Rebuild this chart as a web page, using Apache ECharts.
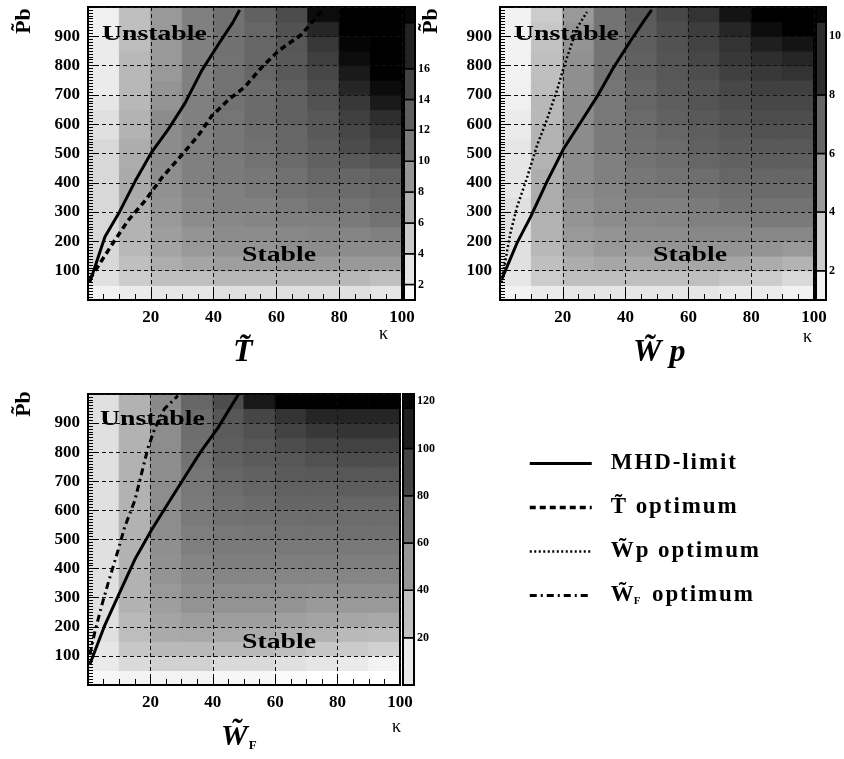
<!DOCTYPE html>
<html>
<head>
<meta charset="utf-8">
<title>Pb vs kappa maps</title>
<script src="https://cdn.jsdelivr.net/npm/echarts@6/dist/echarts.min.js"></script>
<style>
  html, body { margin: 0; background: #fff; }
  #chart { width: 844px; height: 759px; }
</style>
</head>
<body>
<div id="chart"></div>
<script>
// bin edges of the maps
const kappaEdges = [0, 10, 20, 30, 40, 50, 60, 70, 80, 90, 100];
const pbEdges = [0, 50, 100, 150, 200, 250, 300, 350, 400, 450, 500, 550, 600, 650, 700, 750, 800, 850, 900, 950, 1000];

// map values, one row per Pb bin (bottom to top), one column per kappa bin
const zT = [
  [2.0, 2.5, 2.9, 2.9, 3.3, 3.3, 3.3, 3.3, 3.3, 2.9],
  [3.3, 4.8, 5.8, 5.8, 6.3, 6.3, 6.3, 6.3, 6.3, 5.8],
  [3.9, 5.8, 7.1, 7.7, 8.2, 8.2, 8.6, 8.6, 8.6, 8.6],
  [3.9, 6.3, 7.8, 8.6, 9.0, 9.0, 9.4, 9.6, 9.6, 9.6],
  [3.9, 6.7, 8.2, 9.0, 9.6, 9.6, 9.9, 10.1, 10.1, 10.5],
  [3.9, 6.7, 8.6, 9.6, 9.9, 10.1, 10.5, 10.5, 10.9, 11.5],
  [3.9, 7.1, 9.0, 9.9, 10.5, 10.5, 10.9, 11.5, 11.5, 12.0],
  [3.9, 7.3, 9.2, 10.1, 10.5, 10.9, 11.5, 11.8, 12.0, 12.4],
  [3.9, 7.3, 9.4, 10.5, 10.9, 11.1, 11.6, 12.4, 12.4, 12.8],
  [3.9, 7.1, 9.6, 10.5, 10.9, 11.5, 12.0, 12.8, 13.4, 13.9],
  [3.9, 7.1, 9.6, 10.5, 11.1, 11.6, 12.4, 13.0, 14.3, 15.3],
  [3.3, 6.7, 9.6, 10.5, 11.1, 11.8, 12.4, 13.4, 14.7, 15.8],
  [3.3, 6.7, 9.6, 10.5, 11.3, 12.0, 12.8, 13.5, 15.3, 16.6],
  [2.9, 6.3, 9.0, 10.5, 11.5, 12.0, 12.8, 13.9, 15.8, 18.1],
  [2.5, 6.3, 9.0, 10.5, 11.5, 12.0, 13.0, 14.3, 17.2, 19.1],
  [2.5, 6.3, 8.6, 10.5, 11.5, 12.4, 13.4, 14.7, 18.1, 20],
  [2.5, 6.3, 8.6, 10.5, 11.5, 12.4, 13.4, 15.3, 19.1, 20],
  [2.5, 5.9, 8.6, 10.5, 11.6, 12.4, 13.5, 15.8, 19.6, 20],
  [2.1, 5.8, 8.6, 10.5, 11.6, 12.4, 13.9, 17.2, 20, 20],
  [2.1, 5.8, 8.6, 10.5, 11.6, 12.8, 14.3, 19.1, 20, 20]
];
const zWp = [
  [1.5, 1.8, 2.0, 2.0, 2.0, 2.0, 2.0, 1.8, 1.8, 1.5],
  [2.0, 3.0, 3.5, 3.5, 3.5, 3.5, 3.5, 3.2, 3.0, 2.5],
  [2.2, 3.5, 4.2, 4.5, 4.5, 4.5, 4.5, 4.5, 4.3, 4.0],
  [2.2, 3.8, 4.6, 5.0, 5.0, 5.2, 5.2, 5.2, 5.2, 5.0],
  [2.2, 4.0, 5.0, 5.2, 5.5, 5.5, 5.7, 5.7, 5.7, 5.7],
  [2.2, 4.0, 5.2, 5.5, 5.7, 5.8, 6.0, 6.0, 6.2, 6.2],
  [2.2, 4.2, 5.3, 5.7, 6.0, 6.0, 6.2, 6.5, 6.5, 6.5],
  [2.0, 4.2, 5.5, 5.8, 6.2, 6.3, 6.5, 6.7, 6.8, 6.8],
  [2.0, 4.2, 5.5, 6.0, 6.3, 6.5, 6.7, 7.0, 7.0, 7.0],
  [2.0, 4.0, 5.5, 6.0, 6.5, 6.7, 7.0, 7.2, 7.3, 7.3],
  [2.0, 4.0, 5.5, 6.2, 6.6, 6.8, 7.2, 7.4, 7.5, 7.5],
  [1.8, 4.0, 5.5, 6.2, 6.7, 7.0, 7.3, 7.6, 7.8, 7.8],
  [1.8, 3.8, 5.5, 6.3, 6.8, 7.2, 7.5, 7.8, 8.0, 8.0],
  [1.6, 3.8, 5.5, 6.3, 7.0, 7.3, 7.7, 8.0, 8.2, 8.2],
  [1.6, 3.6, 5.4, 6.4, 7.0, 7.5, 7.8, 8.2, 8.5, 8.5],
  [1.5, 3.5, 5.4, 6.5, 7.2, 7.6, 8.0, 8.5, 8.8, 9.0],
  [1.5, 3.5, 5.3, 6.5, 7.2, 7.7, 8.2, 8.8, 9.2, 9.5],
  [1.5, 3.4, 5.2, 6.5, 7.3, 7.8, 8.4, 9.0, 9.8, 10.2],
  [1.5, 3.2, 5.2, 6.5, 7.4, 8.0, 8.6, 9.5, 10.5, 11],
  [1.5, 3.0, 5.0, 6.5, 7.5, 8.2, 9.0, 10.2, 11, 11]
];
const zWF = [
  [4, 6, 6, 6, 4, 4, 2, 0, 0, 0],
  [10, 18, 22, 22, 18, 18, 15, 12, 10, 6],
  [12, 27, 34, 34, 34, 34, 31, 27, 25, 22],
  [15, 32, 41, 42, 42, 41, 39, 37, 34, 33],
  [15, 34, 44, 47, 47, 47, 46, 44, 43, 42],
  [15, 37, 47, 52, 52, 52, 52, 49, 49, 49],
  [15, 37, 49, 54, 55, 55, 55, 54, 54, 54],
  [15, 37, 52, 57, 59, 59, 59, 59, 59, 59],
  [15, 37, 53, 59, 62, 62, 62, 62, 62, 62],
  [15, 37, 54, 62, 64, 64, 65, 65, 65, 65],
  [15, 37, 55, 62, 65, 66, 68, 68, 69, 69],
  [15, 37, 55, 64, 68, 69, 70, 71, 71, 71],
  [15, 37, 55, 64, 69, 71, 74, 74, 74, 74],
  [15, 37, 55, 65, 71, 74, 76, 76, 78, 78],
  [15, 37, 55, 66, 74, 76, 79, 80, 81, 81],
  [15, 37, 55, 68, 76, 79, 81, 84, 86, 86],
  [15, 37, 55, 69, 78, 81, 86, 89, 91, 91],
  [15, 37, 55, 70, 79, 84, 91, 96, 98, 98],
  [15, 37, 55, 71, 81, 89, 98, 105, 105, 105],
  [15, 37, 57, 74, 86, 111, 123, 123, 123, 123]
];

// colour bar band edges and tick labels
const cbEdgesT = [1, 2, 4, 6, 8, 10, 12, 14, 16, 19, 20];
const cbTicksT = [2, 4, 6, 8, 10, 12, 14, 16];
const cbEdgesWp = [1, 2, 4, 6, 8, 10.5, 11];
const cbTicksWp = [2, 4, 6, 8, 10];
const cbEdgesWF = [0, 20, 40, 60, 80, 100, 117, 123];
const cbTicksWF = [20, 40, 60, 80, 100, 120];

// MHD limit (same kappa samples in every panel)
const mhdKappa = [0.6, 5.4, 9.7, 15, 20.3, 25.6, 30.9, 36.2, 41.5, 46, 48.3];
const mhdPbT = [61, 216, 294, 405, 505, 583, 672, 783, 872, 945, 990];
const mhdPbWp = [72, 194, 283, 405, 517, 605, 694, 794, 883, 955, 990];
const mhdPbWF = [71, 206, 307, 431, 532, 623, 713, 803, 881, 960, 1000];

// optimum curves
const optKappaT = [0.6, 3.3, 8.6, 12.8, 18.2, 23.5, 29.8, 35.1, 39.4, 44.7, 50, 55.3, 60.6, 68, 73.3, 75];
const optPbT = [72, 117, 205, 272, 339, 417, 494, 561, 628, 683, 728, 794, 850, 906, 972, 995];
const optKappaWp = [0.5, 1.2, 3.3, 5.4, 8.6, 11.8, 15, 18.2, 20.3, 22.4, 24.5, 27.7];
const optPbWp = [60, 105, 228, 317, 417, 528, 617, 717, 794, 861, 928, 983];
const optKappaWF = [0.6, 2.2, 4.4, 6.5, 9.7, 11.8, 15, 17.1, 19.2, 21.4, 24.5, 28.8];
const optPbWF = [104, 183, 273, 352, 465, 544, 634, 724, 814, 881, 949, 994];

const legendNames = ["MHD-limit", "T\u0303 optimum", "W\u0303p optimum", "W\u0303F optimum"];

const SERIF = "'Liberation Serif', 'DejaVu Serif', serif";

const panels = [
  {
    z: zT, cb: cbEdgesT, ticks: cbTicksT, min: 1, max: 20,
    mhd: mhdPbT, optK: optKappaT, optP: optPbT, optName: legendNames[1],
    optStyle: { type: [6, 4], width: 3.5 },
    main: { left: 88, top: 7, width: 314, height: 293 },
    bar: { left: 404, top: 7, width: 11, height: 293 }
  },
  {
    z: zWp, cb: cbEdgesWp, ticks: cbTicksWp, min: 1, max: 11,
    mhd: mhdPbWp, optK: optKappaWp, optP: optPbWp, optName: legendNames[2],
    optStyle: { type: [2, 2.5], width: 2.5 },
    main: { left: 500, top: 7, width: 314, height: 293 },
    bar: { left: 816, top: 7, width: 11, height: 293 }
  },
  {
    z: zWF, cb: cbEdgesWF, ticks: cbTicksWF, min: 0, max: 123,
    mhd: mhdPbWF, optK: optKappaWF, optP: optPbWF, optName: legendNames[3],
    optStyle: { type: [7, 4, 2, 4], width: 3 },
    main: { left: 88, top: 394, width: 312, height: 291 },
    bar: { left: 403, top: 394, width: 11, height: 291 }
  }
];

function buildCells(z) {
  const cells = [];
  z.forEach((row, r) => {
    row.forEach((v, c) => {
      cells.push([kappaEdges[c], kappaEdges[c + 1], pbEdges[r], pbEdges[r + 1], v]);
    });
  });
  return cells;
}

function buildBands(edges) {
  const bands = [];
  for (let i = 0; i < edges.length - 1; i++) {
    bands.push([0, 1, edges[i], edges[i + 1], (edges[i] + edges[i + 1]) / 2]);
  }
  return bands;
}

function rectItem(api, stroke, lineWidth) {
  const a = api.coord([api.value(0), api.value(3)]);
  const b = api.coord([api.value(1), api.value(2)]);
  const color = api.visual("color");
  return {
    type: "rect",
    shape: { x: a[0], y: a[1], width: b[0] - a[0], height: b[1] - a[1] },
    style: { fill: color, stroke: stroke || color, lineWidth: lineWidth }
  };
}

function zip(xs, ys) {
  return xs.map((x, i) => [x, ys[i]]);
}

function spaced(s) {
  return s.match(/.\u0303?/g).join("\u200A");
}

const grid = [];
const xAxis = [];
const yAxis = [];
const series = [];
const visualMap = [];

panels.forEach((p, i) => {
  grid.push(Object.assign({ show: true, borderColor: "#000", borderWidth: 2, z: 2 }, p.main));
  grid.push(Object.assign({ show: true, borderColor: "#000", borderWidth: 2, z: 2 }, p.bar));

  const labelStyle = { color: "#000", fontFamily: SERIF, fontWeight: "bold", fontSize: 17 };
  const gridLine = { show: true, lineStyle: { color: "#111", width: 1, type: [4, 3] } };

  xAxis.push({
    type: "value", gridIndex: 2 * i, min: 0, max: 100, interval: 20, z: 3,
    axisLine: { show: true, onZero: false, lineStyle: { color: "#000", width: 2 } },
    axisTick: { inside: true, length: 10, lineStyle: { color: "#000" } },
    minorTick: { show: true, splitNumber: 4, length: 6, lineStyle: { color: "#000" } },
    axisLabel: Object.assign({ showMinLabel: false, margin: 9 }, labelStyle),
    splitLine: gridLine
  });
  xAxis.push({ type: "value", gridIndex: 2 * i + 1, min: 0, max: 1, show: false });

  yAxis.push({
    type: "value", gridIndex: 2 * i, min: 0, max: 1000, interval: 100, z: 3,
    axisLine: { show: true, onZero: false, lineStyle: { color: "#000", width: 2 } },
    axisTick: { inside: true, length: 10, lineStyle: { color: "#000" } },
    minorTick: { show: true, splitNumber: 10, length: 5, lineStyle: { color: "#000" } },
    axisLabel: Object.assign({ showMinLabel: false, showMaxLabel: false, margin: 8 }, labelStyle),
    splitLine: gridLine
  });
  yAxis.push({
    type: "value", gridIndex: 2 * i + 1, min: p.min, max: p.max, position: "right",
    axisLine: { show: false }, axisTick: { show: false }, splitLine: { show: false },
    axisLabel: {
      customValues: p.ticks, margin: 3, color: "#000",
      fontFamily: SERIF, fontWeight: "bold", fontSize: 12
    }
  });

  const heatIdx = series.length;
  series.push({
    type: "custom", xAxisIndex: 2 * i, yAxisIndex: 2 * i, silent: true, clip: true, z: 1,
    data: buildCells(p.z),
    renderItem: (params, api) => rectItem(api, null, 1)
  });
  series.push({
    type: "custom", xAxisIndex: 2 * i + 1, yAxisIndex: 2 * i + 1, silent: true, z: 1,
    data: buildBands(p.cb),
    renderItem: (params, api) => rectItem(api, "#000", 1.5)
  });
  visualMap.push({
    type: "continuous", show: false, seriesIndex: [heatIdx, heatIdx + 1], dimension: 4,
    min: p.min, max: p.max, inRange: { color: ["#ffffff", "#000000"] }
  });

  series.push({
    type: "line", name: legendNames[0], xAxisIndex: 2 * i, yAxisIndex: 2 * i, z: 5,
    data: zip(mhdKappa, p.mhd), symbol: "none", silent: true,
    itemStyle: { color: "#000" },
    lineStyle: { color: "#000", width: 3, type: "solid" }
  });
  series.push({
    type: "line", name: p.optName, xAxisIndex: 2 * i, yAxisIndex: 2 * i, z: 5,
    data: zip(p.optK, p.optP), symbol: "none", silent: true,
    itemStyle: { color: "#000" },
    lineStyle: Object.assign({ color: "#000" }, p.optStyle)
  });
});

function text(x, y, str, font, extra) {
  return Object.assign({
    type: "text", x: x, y: y, silent: true, z: 10,
    style: { text: str, font: font, fill: "#000", textAlign: "left", textVerticalAlign: "middle" }
  }, extra || {});
}

function yName(x, y) {
  return {
    type: "text", x: x, y: y, rotation: Math.PI / 2, silent: true, z: 10,
    style: { text: "P\u0303b", font: "bold 22px " + SERIF, fill: "#000", textAlign: "center", textVerticalAlign: "middle" }
  };
}

const bold22 = "bold 22px " + SERIF;
const kappaFont = "18px " + SERIF;
const graphic = [
  text(102, 34, "Unstable", bold22, { scaleX: 1.26 }),
  text(242, 255, "Stable", bold22, { scaleX: 1.26 }),
  text(514, 34, "Unstable", bold22, { scaleX: 1.26 }),
  text(653, 255, "Stable", bold22, { scaleX: 1.26 }),
  text(100, 419, "Unstable", bold22, { scaleX: 1.26 }),
  text(242, 642, "Stable", bold22, { scaleX: 1.26 }),
  yName(24, 21),
  yName(431, 21),
  yName(24, 404),
  text(379, 334, "\u03ba", kappaFont),
  text(803, 337, "\u03ba", kappaFont),
  text(392, 727, "\u03ba", kappaFont),
  text(233, 353, "T\u0303", "italic bold 32px " + SERIF),
  text(633, 353, "W\u0303 p", "italic bold 32px " + SERIF),
  {
    type: "text", x: 221, y: 737, silent: true, z: 10,
    style: {
      text: "{w|W\u0303}{f|F}", fill: "#000", textAlign: "left", textVerticalAlign: "middle",
      rich: {
        w: { font: "italic bold 30px " + SERIF, fill: "#000" },
        f: { font: "bold 13px " + SERIF, fill: "#000", verticalAlign: "bottom", padding: [0, 0, 0, 1] }
      }
    }
  }
];

const option = {
  backgroundColor: "#fff",
  animation: false,
  grid: grid,
  xAxis: xAxis,
  yAxis: yAxis,
  visualMap: visualMap,
  series: series,
  graphic: graphic,
  legend: {
    orient: "vertical", left: 528, top: 452, padding: 0,
    itemWidth: 62, itemHeight: 14, itemGap: 21,
    selectedMode: false,
    data: legendNames,
    itemStyle: { opacity: 0 },
    lineStyle: { width: "inherit" },
    textStyle: {
      color: "#000", fontFamily: SERIF, fontWeight: "bold", fontSize: 23, padding: [0, 0, 0, 14],
      rich: {
        t: { fontFamily: SERIF, fontWeight: "bold", fontSize: 23, color: "#000" },
        s: { fontFamily: SERIF, fontWeight: "bold", fontSize: 11, color: "#000", verticalAlign: "bottom" }
      }
    },
    formatter: (name) => {
      if (name === legendNames[3]) {
        return "{t|W\u0303}{s|F}{t|\u2002" + spaced("optimum") + "}";
      }
      return spaced(name);
    }
  }
};

const chart = echarts.init(document.getElementById("chart"), null, { renderer: "canvas" });
chart.setOption(option);
</script>
</body>
</html>
